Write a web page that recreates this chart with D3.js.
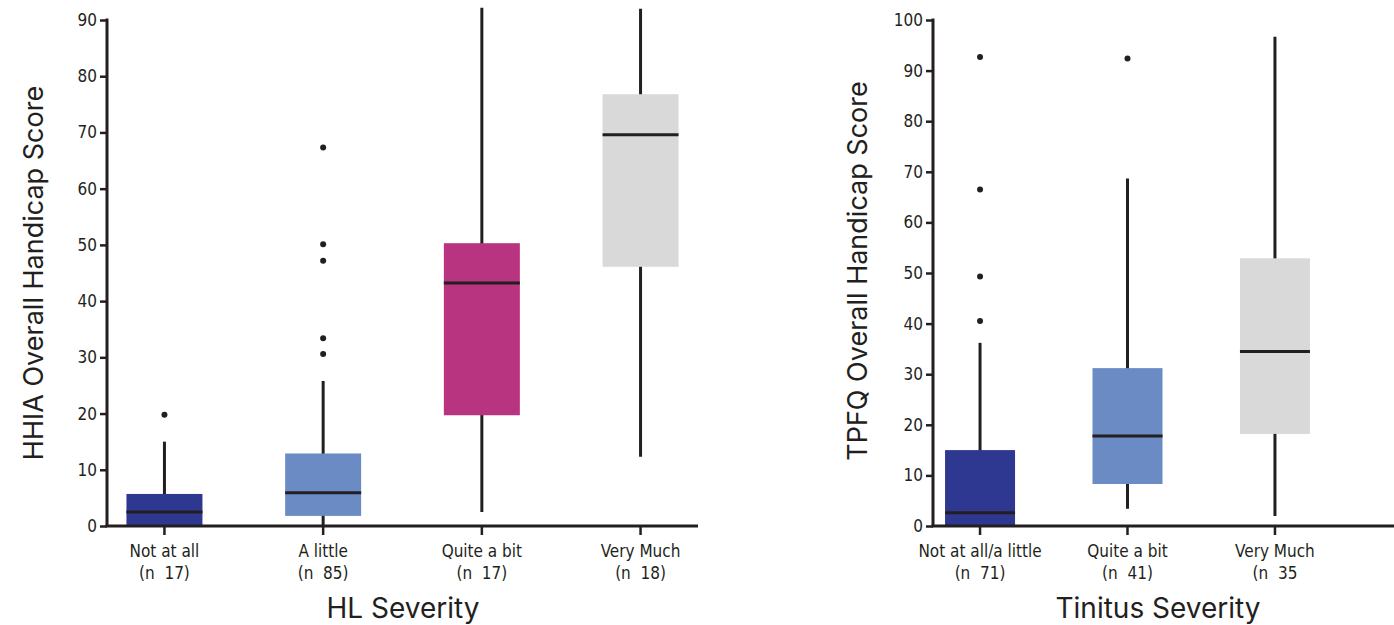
<!DOCTYPE html>
<html>
<head>
<meta charset="utf-8">
<script src="https://cdn.jsdelivr.net/npm/d3@7"></script>
<style>
  body { margin: 0; background: #fff; }
  svg text { fill: #231f20; }
</style>
</head>
<body>
<div class="container"></div>
<script>
////////////////////////////////////////////////////////////////
// DATA - HL severity panel (HHIA)
////////////////////////////////////////////////////////////////
var hlCats = ["Not at all", "A little", "Quite a bit", "Very Much"];
var hlN = ["17", "85", "17", "18"];
var hlLo = [0, 0, 2.5, 12.3];        // lower whisker
var hlQ1 = [0, 1.8, 19.7, 46.1];
var hlMed = [2.5, 5.9, 43.2, 69.6];
var hlQ3 = [5.7, 12.9, 50.3, 76.8];
var hlHi = [15.0, 25.8, 92.2, 92.0];  // upper whisker
var hlOut = [[19.8], [30.6, 33.4, 47.2, 50.1, 67.3], [], []];
var hlTicks = [0, 10, 20, 30, 40, 50, 60, 70, 80, 90];

////////////////////////////////////////////////////////////////
// DATA - Tinnitus severity panel (TPFQ)
////////////////////////////////////////////////////////////////
var tnCats = ["Not at all/a little", "Quite a bit", "Very Much"];
var tnN = ["71", "41", "35"];
var tnLo = [0, 3.4, 2.0];
var tnQ1 = [0, 8.3, 18.2];
var tnMed = [2.6, 17.8, 34.5];
var tnQ3 = [15.0, 31.2, 52.9];
var tnHi = [36.2, 68.7, 96.7];
var tnOut = [[40.5, 49.3, 66.5, 92.7], [92.4], []];
var tnTicks = [0, 10, 20, 30, 40, 50, 60, 70, 80, 90, 100];

var hlColors = ["#2e3890", "#6b8bc5", "#b83380", "#d9d9d9"];
var tnColors = ["#2e3890", "#6b8bc5", "#d9d9d9"];

var ink = "#231f20";
var tickFont = "'Liberation Sans Narrow', 'DejaVu Sans Condensed', sans-serif";
var labFont = "'DejaVu Sans Condensed', 'Liberation Sans Narrow', sans-serif";
var titleFont = "Inter, 'Noto Sans', sans-serif";

////////////////////////////////////////////////////////////////
// STAGE
////////////////////////////////////////////////////////////////
var svg = d3.select(".container").append("svg")
  .attr("width", 1394)
  .attr("height", 625);

////////////////////////////////////////////////////////////////
// DRAW ONE PANEL
////////////////////////////////////////////////////////////////
function drawPanel(p) {
  var g = svg.append("g");

  var y = d3.scaleLinear().domain([0, p.yMax]).range([526, 20]);
  var x = d3.scalePoint().domain(p.cats).range(p.xRange).padding(p.pad);

  // y axis
  var yAxis = d3.axisLeft(y).tickValues(p.ticks).tickSize(7).tickPadding(3).tickSizeOuter(0);
  var ya = g.append("g").attr("transform", "translate(" + p.x0 + ",0)").call(yAxis);
  ya.select(".domain").remove();
  ya.selectAll(".tick line").attr("stroke", ink).attr("stroke-width", 2.5);
  ya.selectAll(".tick text")
    .attr("font-family", tickFont).attr("font-size", 17).attr("fill", ink);
  g.append("line")
    .attr("x1", p.x0).attr("x2", p.x0)
    .attr("y1", y(p.yMax) - 1.5).attr("y2", y(0))
    .attr("stroke", ink).attr("stroke-width", 3);

  // whiskers
  p.cats.forEach(function (c, i) {
    g.append("line")
      .attr("x1", x(c)).attr("x2", x(c))
      .attr("y1", y(p.lo[i])).attr("y2", y(p.hi[i]))
      .attr("stroke", ink).attr("stroke-width", 3);
  });

  // boxes
  g.selectAll("rect.box").data(p.cats).enter().append("rect")
    .attr("class", "box")
    .attr("x", function (c) { return x(c) - p.bw / 2; })
    .attr("width", p.bw)
    .attr("y", function (c, i) { return y(p.q3[i]); })
    .attr("height", function (c, i) { return y(p.q1[i]) - y(p.q3[i]); })
    .attr("fill", function (c, i) { return p.colors[i]; });

  // medians
  g.selectAll("line.med").data(p.cats).enter().append("line")
    .attr("class", "med")
    .attr("x1", function (c) { return x(c) - p.bw / 2; })
    .attr("x2", function (c) { return x(c) + p.bw / 2; })
    .attr("y1", function (c, i) { return y(p.med[i]); })
    .attr("y2", function (c, i) { return y(p.med[i]); })
    .attr("stroke", ink).attr("stroke-width", 3);

  // outliers
  p.cats.forEach(function (c, i) {
    g.selectAll(null).data(p.out[i]).enter().append("circle")
      .attr("cx", x(c)).attr("cy", function (v) { return y(v); })
      .attr("r", 3).attr("fill", ink);
  });

  // x axis line and ticks
  g.append("line")
    .attr("x1", p.x0 - 1.5).attr("x2", p.xEnd)
    .attr("y1", y(0)).attr("y2", y(0))
    .attr("stroke", ink).attr("stroke-width", 3);
  p.cats.forEach(function (c, i) {
    g.append("line")
      .attr("x1", x(c)).attr("x2", x(c))
      .attr("y1", y(0)).attr("y2", y(0) + 9)
      .attr("stroke", ink).attr("stroke-width", 2.5);
    var t = g.append("text")
      .attr("text-anchor", "middle")
      .attr("font-family", labFont).attr("font-size", 17)
      .style("white-space", "pre");
    t.append("tspan").attr("x", x(c)).attr("y", 557).text(c);
    t.append("tspan").attr("x", x(c)).attr("y", 579).text("(n  " + p.n[i] + (p.closeParen[i] ? ")" : ""));
  });

  // titles
  g.append("text")
    .attr("x", p.xTitleX).attr("y", 618)
    .attr("text-anchor", "middle")
    .attr("font-family", titleFont).attr("font-size", 28)
    .text(p.xTitle);
  g.append("text")
    .attr("transform", "translate(" + p.yTitleX + "," + p.yTitleY + ") rotate(-90)")
    .attr("text-anchor", "middle")
    .attr("font-family", titleFont).attr("font-size", 27)
    .text(p.yTitle);
}

drawPanel({
  cats: hlCats, n: hlN, lo: hlLo, q1: hlQ1, med: hlMed, q3: hlQ3, hi: hlHi, out: hlOut,
  colors: hlColors, ticks: hlTicks, yMax: 90, closeParen: [true, true, true, true],
  x0: 107, xEnd: 698, xRange: [107, 698], pad: 0.362, bw: 76,
  xTitle: "HL Severity", xTitleX: 403,
  yTitle: "HHIA Overall Handicap Score", yTitleX: 43, yTitleY: 273
});

drawPanel({
  cats: tnCats, n: tnN, lo: tnLo, q1: tnQ1, med: tnMed, q3: tnQ3, hi: tnHi, out: tnOut,
  colors: tnColors, ticks: tnTicks, yMax: 100, closeParen: [true, true, false],
  x0: 933, xEnd: 1394, xRange: [933, 1322], pad: 0.319, bw: 70,
  xTitle: "Tinitus Severity", xTitleX: 1158,
  yTitle: "TPFQ Overall Handicap Score", yTitleX: 867, yTitleY: 271
});
</script>
</body>
</html>
